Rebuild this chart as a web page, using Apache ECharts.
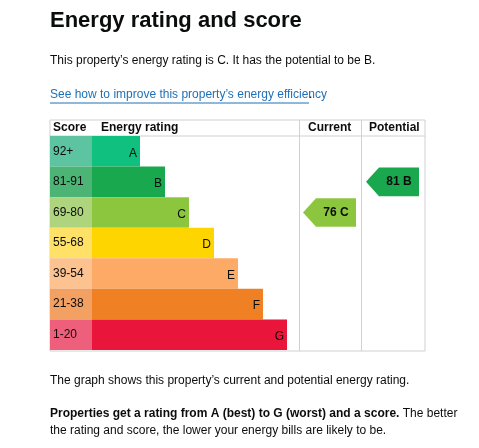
<!DOCTYPE html>
<html><head><meta charset="utf-8">
<script src="https://cdn.jsdelivr.net/npm/echarts@6/dist/echarts.min.js"></script>
<style>html,body{margin:0;padding:0;background:#fff}#c{width:479px;height:448px}</style>
</head><body><div id="c"></div>
<script>
const bands = ['A','B','C','D','E','F','G'];
const scoreRanges = ['92+','81-91','69-80','55-68','39-54','21-38','1-20'];
const barLength = [48,73,97,122,146,171,195];
const bandColors = ['#0fc07f','#19a84e','#8cc63f','#ffd500','#fcaa65','#ef8023','#e9153b'];
const scoreColors = ['#5cc4a0','#4cb474','#aed47e','#ffe168','#fcc290','#f3a063','#ee5f7b'];
const ratingCols = ['Current','Potential'];
const ratings = [[0,2,'76 C'],[1,1,'81 B']];
const F = 'Liberation Sans, Arial, sans-serif';
const chart = echarts.init(document.getElementById('c'));
const yCat = i => ({type:'category',data:bands,inverse:true,gridIndex:i,show:false});
chart.setOption({
  animation:false,
  grid:[
    {left:50,top:136,width:42,height:214},
    {left:92,top:136,width:207,height:214},
    {left:299,top:136,width:126,height:214}
  ],
  xAxis:[
    {type:'value',min:0,max:1,gridIndex:0,show:false},
    {type:'value',min:0,max:207,gridIndex:1,show:false},
    {type:'category',data:ratingCols,gridIndex:2,show:false}
  ],
  yAxis:[yCat(0),yCat(1),yCat(2)],
  graphic:[
    {type:'text',left:50,top:10,style:{text:'Energy rating and score',font:'bold 22px '+F,fill:'#0b0c0c'}},
    {type:'text',left:50,top:55,style:{text:'This property’s energy rating is C. It has the potential to be B.',font:'12px '+F,fill:'#0b0c0c'}},
    {type:'text',left:50,top:89,style:{text:'See how to improve this property’s energy efficiency',font:'12px '+F,fill:'#1d70b8'}},
    {type:'line',shape:{x1:50,y1:103,x2:309,y2:103},style:{stroke:'#1d70b8',lineWidth:1}},
    {type:'text',left:309,top:89,style:{text:'.',font:'12px '+F,fill:'#0b0c0c'}},
    {type:'rect',shape:{x:50,y:120,width:375,height:231},style:{fill:'none',stroke:'#d0d0d0',lineWidth:1}},
    {type:'line',shape:{x1:50,y1:136,x2:425,y2:136},style:{stroke:'#d0d0d0'}},
    {type:'line',shape:{x1:299.5,y1:120,x2:299.5,y2:351},style:{stroke:'#d0d0d0'}},
    {type:'line',shape:{x1:361.5,y1:120,x2:361.5,y2:351},style:{stroke:'#d0d0d0'}},
    {type:'text',left:53,top:122,style:{text:'Score',font:'bold 12px '+F,fill:'#0b0c0c'}},
    {type:'text',left:101,top:122,style:{text:'Energy rating',font:'bold 12px '+F,fill:'#0b0c0c'}},
    {type:'text',left:308,top:122,style:{text:'Current',font:'bold 12px '+F,fill:'#0b0c0c'}},
    {type:'text',left:369,top:122,style:{text:'Potential',font:'bold 12px '+F,fill:'#0b0c0c'}},
    {type:'text',left:50,top:375,style:{text:'The graph shows this property’s current and potential energy rating.',font:'12px '+F,fill:'#0b0c0c'}},
    {type:'text',left:50,top:408,style:{rich:{b:{font:'bold 12px '+F,fill:'#0b0c0c'},n:{font:'12px '+F,fill:'#0b0c0c'}},text:'{b|Properties get a rating from A (best) to G (worst) and a score.}{n| The better}'}},
    {type:'text',left:50,top:425,style:{text:'the rating and score, the lower your energy bills are likely to be.',font:'12px '+F,fill:'#0b0c0c'}}
  ],
  series:[
    {type:'bar',xAxisIndex:0,yAxisIndex:0,barCategoryGap:0,
     data:scoreRanges.map((s,i)=>({value:1,name:s,itemStyle:{color:scoreColors[i]}})),
     label:{show:true,position:'insideLeft',offset:[-2,0],formatter:p=>p.name,font:'bold 12px '+F,color:'#0b0c0c'}},
    {type:'bar',xAxisIndex:1,yAxisIndex:1,barCategoryGap:0,
     data:barLength.map((v,i)=>({value:v,itemStyle:{color:bandColors[i]}})),
     label:{show:true,position:'insideRight',offset:[2,2],formatter:p=>bands[p.dataIndex],font:'bold 23px '+F,color:'#0b0c0c'}},
    {type:'custom',xAxisIndex:2,yAxisIndex:2,data:ratings,
     renderItem:(params,api)=>{
       const c=api.coord([api.value(0),api.value(1)]);
       const s=api.size([1,1]);
       const x0=c[0]-s[0]/2+4,x1=c[0]+s[0]/2-6,y0=c[1]-s[1]/2+1,y1=c[1]+s[1]/2-1,ym=c[1],t=13;
       const col=bandColors[api.value(1)];
       return {type:'group',children:[
         {type:'polygon',shape:{points:[[x0,ym],[x0+t,y0],[x1,y0],[x1,y1],[x0+t,y1]]},style:{fill:col}},
         {type:'text',style:{text:ratings[params.dataIndex][2],x:(x0+t+x1)/2,y:ym,align:'center',verticalAlign:'middle',font:'bold 12px '+F,fill:'#0b0c0c'}}
       ]};
     }}
  ]
});
</script></body></html>
